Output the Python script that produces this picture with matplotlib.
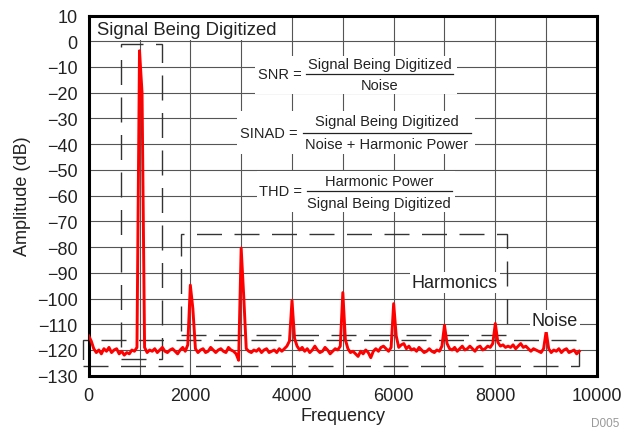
import numpy as np
import matplotlib.pyplot as plt
from matplotlib.patches import Rectangle

plt.rcParams['font.family'] = ['Liberation Sans', 'DejaVu Sans']

# FFT bins, 50 Hz apart
bin_width = 50
# noise floor per bin (dB), one row per 1000 Hz
noise_floor = [
    -114.5, -116.5, -119.5, -121.0, -120.0, -121.5, -119.5, -120.5, -119.0, -121.0,
    -120.0, -119.5, -121.5, -120.5, -122.0, -121.0, -121.5, -120.0, -120.5, -119.0,
    -120.0, -120.0, -119.0, -121.0, -120.0, -120.5, -119.5, -121.0, -120.0, -119.0,
    -120.5, -121.0, -120.0, -119.5, -120.5, -121.5, -120.0, -119.0, -120.5, -118.0,
    -120.0, -120.0, -119.5, -121.0, -120.0, -119.5, -121.0, -120.5, -119.0, -120.0,
    -121.0, -120.0, -119.5, -120.5, -121.0, -119.0, -120.0, -120.5, -121.5, -124.0,
    -120.0, -120.0, -119.5, -120.5, -121.0, -120.0, -120.5, -119.5, -121.0, -120.0,
    -119.5, -121.0, -120.5, -120.0, -121.0, -119.5, -120.5, -119.5, -118.5, -116.5,
    -120.0, -115.5, -118.5, -120.0, -119.0, -120.5, -119.5, -121.0, -120.0, -118.5,
    -120.0, -121.0, -120.5, -119.0, -120.0, -121.5, -120.5, -119.5, -120.0, -118.5,
    -120.0, -116.0, -119.5, -121.0, -120.5, -121.5, -122.5, -120.5, -121.5, -120.0,
    -121.0, -123.0, -120.5, -119.5, -120.5, -119.0, -118.5, -119.5, -120.5, -119.0,
    -120.0, -114.5, -119.0, -118.0, -117.5, -119.5, -118.5, -120.0, -119.5, -120.5,
    -119.0, -120.0, -121.0, -120.5, -119.5, -120.5, -121.0, -120.0, -120.5, -118.5,
    -120.0, -117.5, -119.5, -120.0, -119.0, -120.5, -119.5, -118.5, -120.0, -119.5,
    -118.5, -119.5, -120.5, -119.0, -118.5, -120.0, -119.5, -118.5, -119.0, -117.5,
    -120.0, -117.0, -118.5, -118.0, -119.0, -118.5, -119.0, -118.0, -119.5, -118.5,
    -117.5, -119.0, -118.5, -119.5, -120.5, -119.5, -120.0, -120.5, -121.0, -119.5,
    -120.0, -119.5, -121.0, -120.0, -120.5, -119.5, -121.0, -120.0, -119.5, -121.0,
    -120.5, -120.0, -121.5, -120.5,
]
# fundamental and harmonics: frequency, peak level, level of the next bin up
tone_freq = [1000, 2000, 3000, 4000, 5000, 6000, 7000, 8000, 9000]
tone_peak = [-3.7, -94.8, -80.4, -100.8, -97.7, -102.0, -110.4, -109.7, -112.8]
tone_shoulder = [-20.0, -104.0, -99.0, -115.5, -116.0, -114.5, -117.5, -117.0, -119.5]

freq = np.arange(len(noise_floor)) * bin_width
level = np.array(noise_floor)
for f, pk, sh in zip(tone_freq, tone_peak, tone_shoulder):
    k = f // bin_width
    level[k] = pk
    level[k + 1] = sh

ink = '#222222'
box_kw = dict(fill=False, ec='#333333', lw=1.0, ls=(0, (18, 9)), zorder=2)

fig = plt.figure(figsize=(6.24, 4.35), dpi=100)
ax = fig.add_axes([0.1421, 0.134, 0.8146, 0.828])

ax.plot(freq, level, color='red', lw=2.1, zorder=4)

ax.set_xlim(0, 10000)
ax.set_ylim(-130, 10)
ax.set_xticks(np.arange(0, 10001, 2000))
ax.set_xticks(np.arange(0, 10001, 1000), minor=True)
ax.set_yticks(np.arange(-130, 11, 10))
ax.set_axisbelow(True)
ax.grid(True, which='both', color='#555555', lw=0.8)
ax.tick_params(which='both', length=0, labelsize=13, labelcolor=ink)
ax.tick_params(axis='y', pad=8)
ax.tick_params(axis='x', pad=8)
for s in ax.spines.values():
    s.set_linewidth(2.2)
    s.set_color('black')

ax.set_xlabel('Frequency', fontsize=13, color=ink, labelpad=2)
ax.set_ylabel('Amplitude (dB)', fontsize=13, color=ink, labelpad=4)

# white panels that blank the grid behind the annotations
for x0, x1, y0, y1 in [(0, 3950, 0.5, 10), (3270, 7245, -20.5, -5.8),
                       (2915, 7600, -43.9, -27.1), (3311, 7207, -66.4, -50.5)]:
    ax.add_patch(Rectangle((x0, y0), x1 - x0, y1 - y0, fc='white', ec='none', zorder=1))

ax.text(165, 4.6, 'Signal Being Digitized', fontsize=13.3, color=ink, va='center', zorder=5)

# dashed regions: signal, harmonics, noise
ax.add_patch(Rectangle((630, -123.6), 806, 122.6, **box_kw))
ax.add_patch(Rectangle((1810, -114), 6415, 39, **box_kw))
noise_box = Rectangle((-120, -126.2), 9760, 10.2, clip_on=False, **box_kw)
ax.add_patch(noise_box)

ax.text(7206, -93.7, 'Harmonics', fontsize=13, color=ink, ha='center', va='center', zorder=5,
        bbox=dict(fc='white', ec='none', pad=1.5))
ax.text(9174, -108.7, 'Noise', fontsize=13, color=ink, ha='center', va='center', zorder=5,
        bbox=dict(fc='white', ec='none', pad=1.5))


def fraction(name, name_x, y_mid, top, bottom, x0, x1, y_top, y_bot):
    fs = 10.5
    ax.text(name_x, y_mid, name + ' =', fontsize=fs, color=ink, ha='center', va='center', zorder=5)
    xc = (x0 + x1) / 2
    ax.text(xc, y_top, top, fontsize=fs, color=ink, ha='center', va='center', zorder=5)
    ax.text(xc, y_bot, bottom, fontsize=fs, color=ink, ha='center', va='center', zorder=5)
    ax.plot([x0, x1], [y_mid, y_mid], color=ink, lw=0.9, zorder=5)


fraction('SNR', 3764, -12.75, 'Signal Being Digitized', 'Noise', 4281, 7167, -8.9, -16.9)
fraction('SINAD', 3537, -35.6, 'Signal Being Digitized', 'Noise + Harmonic Power',
         4216, 7521, -30.9, -40.0)
fraction('THD', 3783, -58.3, 'Harmonic Power', 'Signal Being Digitized', 4290, 7147, -54.3, -62.7)

fig.text(0.992, 0.012, 'D005', fontsize=8.5, color='#999999', ha='right', va='bottom')

fig.savefig('out.png', dpi=100)
